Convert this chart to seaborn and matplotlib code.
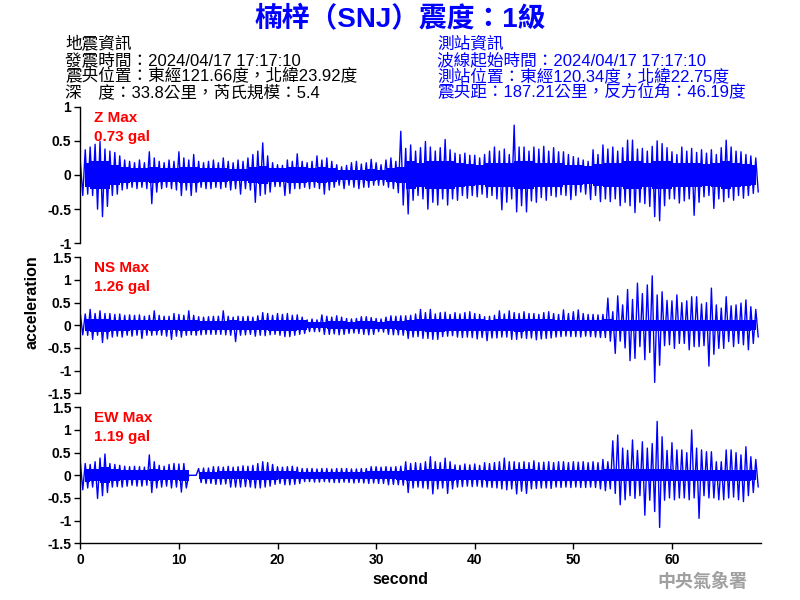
import numpy as np
import pandas as pd
import matplotlib
matplotlib.use("Agg")
import matplotlib.pyplot as plt
from matplotlib.ticker import FuncFormatter
import seaborn as sns

# ---------------- data ----------------
# peak values per half second (t = 0, 0.5, 1.0, ... 68.5 s), unit: gal
Z_up = [0.20, 0.37, 0.41, 0.45, 0.49, 0.38, 0.35, 0.33, 0.28, 0.22,
        0.20, 0.18, 0.22, 0.18, 0.34, 0.25, 0.20, 0.18, 0.22, 0.20,
        0.34, 0.25, 0.22, 0.30, 0.20, 0.18, 0.20, 0.22, 0.18, 0.25,
        0.20, 0.18, 0.22, 0.20, 0.25, 0.30, 0.35, 0.47, 0.28, 0.18,
        0.15, 0.14, 0.22, 0.20, 0.31, 0.20, 0.18, 0.20, 0.28, 0.22,
        0.25, 0.20, 0.15, 0.12, 0.14, 0.18, 0.20, 0.16, 0.18, 0.23,
        0.18, 0.15, 0.22, 0.25, 0.20, 0.64, 0.39, 0.44, 0.35, 0.40,
        0.49, 0.41, 0.35, 0.40, 0.52, 0.37, 0.32, 0.30, 0.32, 0.29,
        0.29, 0.25, 0.30, 0.35, 0.41, 0.35, 0.38, 0.30, 0.73, 0.41,
        0.41, 0.35, 0.41, 0.38, 0.42, 0.35, 0.40, 0.34, 0.34, 0.30,
        0.27, 0.25, 0.22, 0.20, 0.37, 0.30, 0.44, 0.38, 0.41, 0.35,
        0.40, 0.51, 0.51, 0.38, 0.39, 0.35, 0.42, 0.50, 0.46, 0.40,
        0.34, 0.30, 0.41, 0.35, 0.39, 0.33, 0.37, 0.32, 0.37, 0.30,
        0.40, 0.51, 0.41, 0.35, 0.34, 0.30, 0.28, 0.25]
Z_lo = [-0.30, -0.28, -0.30, -0.50, -0.61, -0.46, -0.30, -0.28, -0.22, -0.20,
        -0.18, -0.20, -0.18, -0.20, -0.42, -0.25, -0.20, -0.18, -0.20, -0.22,
        -0.30, -0.22, -0.30, -0.25, -0.18, -0.20, -0.20, -0.18, -0.20, -0.18,
        -0.22, -0.20, -0.28, -0.20, -0.22, -0.40, -0.30, -0.28, -0.25, -0.17,
        -0.17, -0.30, -0.27, -0.20, -0.20, -0.18, -0.20, -0.18, -0.20, -0.28,
        -0.22, -0.18, -0.15, -0.20, -0.15, -0.18, -0.20, -0.18, -0.18, -0.15,
        -0.15, -0.15, -0.18, -0.20, -0.26, -0.44, -0.57, -0.37, -0.30, -0.35,
        -0.50, -0.40, -0.44, -0.35, -0.44, -0.35, -0.37, -0.30, -0.34, -0.30,
        -0.32, -0.28, -0.33, -0.30, -0.35, -0.51, -0.40, -0.35, -0.54, -0.45,
        -0.54, -0.38, -0.40, -0.33, -0.37, -0.30, -0.32, -0.29, -0.30, -0.36,
        -0.30, -0.25, -0.28, -0.36, -0.30, -0.39, -0.35, -0.39, -0.35, -0.45,
        -0.40, -0.45, -0.55, -0.40, -0.42, -0.46, -0.61, -0.67, -0.45, -0.35,
        -0.35, -0.41, -0.38, -0.35, -0.59, -0.40, -0.32, -0.30, -0.49, -0.35,
        -0.39, -0.33, -0.37, -0.30, -0.34, -0.30, -0.27, -0.25]
# half-width of the dense core of the trace, per second (t = 0 .. 68 s)
Z_core = [0.18, 0.20, 0.20, 0.15, 0.12, 0.10, 0.10, 0.12, 0.10, 0.10,
          0.12, 0.12, 0.10, 0.10, 0.10, 0.09, 0.09, 0.11, 0.13, 0.10,
          0.10, 0.11, 0.11, 0.10, 0.11, 0.10, 0.07, 0.07, 0.08, 0.09,
          0.08, 0.10, 0.12, 0.20, 0.18, 0.20, 0.20, 0.20, 0.17, 0.16,
          0.15, 0.17, 0.18, 0.18, 0.20, 0.20, 0.18, 0.18, 0.17, 0.15,
          0.14, 0.13, 0.16, 0.18, 0.18, 0.20, 0.20, 0.18, 0.20, 0.20,
          0.17, 0.18, 0.18, 0.16, 0.17, 0.20, 0.18, 0.16, 0.14]

NS_up = [0.26, 0.25, 0.35, 0.26, 0.32, 0.26, 0.26, 0.24, 0.25, 0.22,
         0.23, 0.22, 0.23, 0.20, 0.22, 0.32, 0.22, 0.20, 0.20, 0.26,
         0.24, 0.22, 0.32, 0.22, 0.19, 0.18, 0.19, 0.20, 0.20, 0.32,
         0.20, 0.18, 0.20, 0.19, 0.20, 0.18, 0.21, 0.28, 0.26, 0.22,
         0.26, 0.24, 0.26, 0.22, 0.23, 0.18, 0.12, 0.14, 0.12, 0.23,
         0.20, 0.18, 0.21, 0.18, 0.15, 0.14, 0.15, 0.19, 0.19, 0.17,
         0.15, 0.14, 0.18, 0.21, 0.20, 0.21, 0.21, 0.22, 0.25, 0.35,
         0.28, 0.35, 0.25, 0.28, 0.29, 0.24, 0.28, 0.25, 0.28, 0.30,
         0.26, 0.24, 0.19, 0.20, 0.22, 0.32, 0.25, 0.32, 0.28, 0.26,
         0.30, 0.26, 0.26, 0.24, 0.28, 0.30, 0.26, 0.24, 0.34, 0.26,
         0.30, 0.34, 0.26, 0.24, 0.24, 0.23, 0.24, 0.60, 0.30, 0.65,
         0.45, 0.79, 0.57, 0.93, 0.70, 0.89, 1.09, 0.67, 0.74, 0.55,
         0.54, 0.67, 0.50, 0.54, 0.63, 0.63, 0.47, 0.50, 0.82, 0.45,
         0.38, 0.63, 0.43, 0.45, 0.49, 0.56, 0.41, 0.35]
NS_lo = [-0.21, -0.22, -0.31, -0.22, -0.38, -0.30, -0.26, -0.24, -0.26, -0.22,
         -0.24, -0.22, -0.29, -0.22, -0.22, -0.21, -0.22, -0.24, -0.31, -0.24,
         -0.26, -0.22, -0.21, -0.22, -0.21, -0.20, -0.20, -0.20, -0.20, -0.21,
         -0.22, -0.36, -0.22, -0.21, -0.20, -0.24, -0.22, -0.23, -0.21, -0.20,
         -0.22, -0.25, -0.25, -0.22, -0.20, -0.18, -0.14, -0.14, -0.14, -0.20,
         -0.20, -0.19, -0.21, -0.20, -0.18, -0.17, -0.18, -0.20, -0.21, -0.20,
         -0.14, -0.15, -0.20, -0.21, -0.21, -0.22, -0.29, -0.26, -0.25, -0.29,
         -0.29, -0.31, -0.31, -0.25, -0.24, -0.23, -0.26, -0.27, -0.26, -0.27,
         -0.30, -0.27, -0.34, -0.28, -0.28, -0.26, -0.26, -0.31, -0.31, -0.28,
         -0.29, -0.28, -0.32, -0.30, -0.29, -0.28, -0.26, -0.25, -0.24, -0.25,
         -0.25, -0.26, -0.24, -0.25, -0.26, -0.27, -0.27, -0.35, -0.62, -0.35,
         -0.50, -0.78, -0.73, -0.47, -0.76, -0.60, -1.26, -0.88, -0.45, -0.43,
         -0.51, -0.40, -0.40, -0.54, -0.47, -0.47, -0.45, -0.90, -0.64, -0.51,
         -0.51, -0.36, -0.47, -0.40, -0.43, -0.54, -0.40, -0.26]
NS_core = [0.13, 0.14, 0.14, 0.12, 0.12, 0.11, 0.11, 0.12, 0.11, 0.11,
           0.12, 0.12, 0.10, 0.10, 0.10, 0.11, 0.10, 0.10, 0.11, 0.12,
           0.12, 0.12, 0.11, 0.07, 0.07, 0.09, 0.09, 0.08, 0.09, 0.09,
           0.08, 0.09, 0.10, 0.12, 0.13, 0.14, 0.14, 0.13, 0.13, 0.13,
           0.13, 0.12, 0.13, 0.13, 0.14, 0.13, 0.13, 0.13, 0.12, 0.12,
           0.12, 0.12, 0.12, 0.13, 0.12, 0.12, 0.12, 0.12, 0.12, 0.12,
           0.12, 0.12, 0.12, 0.12, 0.12, 0.12, 0.12, 0.12, 0.11]

EW_up = [0.30, 0.26, 0.24, 0.30, 0.38, 0.47, 0.26, 0.24, 0.22, 0.20,
         0.19, 0.20, 0.19, 0.18, 0.45, 0.30, 0.22, 0.20, 0.24, 0.26,
         0.25, 0.26, 0.00, 0.00, 0.15, 0.16, 0.16, 0.19, 0.19, 0.18,
         0.20, 0.18, 0.19, 0.21, 0.20, 0.22, 0.26, 0.30, 0.28, 0.24,
         0.19, 0.18, 0.19, 0.20, 0.18, 0.15, 0.15, 0.15, 0.14, 0.15,
         0.15, 0.14, 0.15, 0.15, 0.15, 0.14, 0.14, 0.15, 0.15, 0.19,
         0.19, 0.18, 0.19, 0.18, 0.19, 0.20, 0.30, 0.26, 0.28, 0.26,
         0.30, 0.41, 0.30, 0.28, 0.38, 0.30, 0.23, 0.22, 0.25, 0.23,
         0.25, 0.22, 0.28, 0.26, 0.28, 0.30, 0.38, 0.30, 0.30, 0.28,
         0.30, 0.28, 0.32, 0.28, 0.29, 0.30, 0.28, 0.30, 0.30, 0.28,
         0.30, 0.29, 0.30, 0.28, 0.30, 0.28, 0.35, 0.30, 0.76, 0.89,
         0.60, 0.55, 0.78, 0.55, 0.74, 0.60, 0.70, 1.19, 0.85, 0.55,
         0.72, 0.56, 0.56, 0.50, 1.00, 0.60, 0.56, 0.52, 0.52, 0.30,
         0.30, 0.56, 0.56, 0.50, 0.45, 0.63, 0.41, 0.35]
EW_lo = [-0.32, -0.28, -0.26, -0.51, -0.45, -0.38, -0.26, -0.25, -0.26, -0.24,
         -0.22, -0.24, -0.24, -0.22, -0.38, -0.28, -0.26, -0.24, -0.28, -0.26,
         -0.37, -0.28, 0.00, 0.00, -0.16, -0.18, -0.18, -0.20, -0.20, -0.19,
         -0.26, -0.26, -0.26, -0.25, -0.26, -0.28, -0.28, -0.26, -0.24, -0.20,
         -0.18, -0.21, -0.21, -0.20, -0.18, -0.14, -0.14, -0.15, -0.15, -0.14,
         -0.15, -0.16, -0.16, -0.15, -0.16, -0.17, -0.16, -0.17, -0.18, -0.17,
         -0.18, -0.18, -0.21, -0.20, -0.21, -0.22, -0.38, -0.28, -0.26, -0.28,
         -0.30, -0.41, -0.30, -0.28, -0.40, -0.30, -0.26, -0.25, -0.24, -0.25,
         -0.24, -0.26, -0.26, -0.27, -0.28, -0.30, -0.32, -0.30, -0.41, -0.35,
         -0.40, -0.30, -0.29, -0.28, -0.28, -0.29, -0.26, -0.27, -0.26, -0.27,
         -0.26, -0.27, -0.27, -0.26, -0.27, -0.30, -0.34, -0.30, -0.40, -0.65,
         -0.54, -0.45, -0.51, -0.45, -0.88, -0.55, -0.80, -1.15, -0.55, -0.50,
         -0.54, -0.50, -0.50, -0.54, -0.50, -0.95, -0.45, -0.50, -0.50, -0.54,
         -0.54, -0.50, -0.48, -0.54, -0.58, -0.45, -0.38, -0.26]
EW_core = [0.14, 0.13, 0.18, 0.13, 0.11, 0.11, 0.11, 0.13, 0.11, 0.11,
           0.12, 0.00, 0.08, 0.08, 0.09, 0.09, 0.09, 0.10, 0.10, 0.10,
           0.09, 0.09, 0.08, 0.08, 0.08, 0.08, 0.08, 0.08, 0.08, 0.09,
           0.09, 0.09, 0.10, 0.12, 0.12, 0.13, 0.13, 0.13, 0.11, 0.11,
           0.11, 0.12, 0.12, 0.12, 0.13, 0.13, 0.12, 0.12, 0.12, 0.12,
           0.12, 0.12, 0.12, 0.13, 0.13, 0.13, 0.13, 0.13, 0.13, 0.13,
           0.12, 0.12, 0.12, 0.12, 0.12, 0.12, 0.12, 0.12, 0.11]

components = ["Z", "NS", "EW"]
max_labels = ["Z Max\n0.73 gal", "NS Max\n1.26 gal", "EW Max\n1.19 gal"]
y_ticks = [[-1, -0.5, 0, 0.5, 1],
           [-1.5, -1, -0.5, 0, 0.5, 1, 1.5],
           [-1.5, -1, -0.5, 0, 0.5, 1, 1.5]]
x_ticks = [0, 10, 20, 30, 40, 50, 60]

title = "楠梓（SNJ）震度：1級"
left_info = ["地震資訊",
             "發震時間：2024/04/17 17:17:10",
             "震央位置：東經121.66度，北緯23.92度",
             "深　度：33.8公里，芮氏規模：5.4"]
right_info = ["測站資訊",
              "波線起始時間：2024/04/17 17:17:10",
              "測站位置：東經120.34度，北緯22.75度",
              "震央距：187.21公里，反方位角：46.19度"]

# ---------------- build long table ----------------
step = 0.5
series = {"Z": (Z_up, Z_lo, Z_core), "NS": (NS_up, NS_lo, NS_core),
          "EW": (EW_up, EW_lo, EW_core)}
rows = []
for comp, (up, lo, core) in series.items():
    for i, (u, l) in enumerate(zip(up, lo)):
        t0 = i * step
        rows.append((comp, t0, u))
        rows.append((comp, t0 + step / 2, l))
df = pd.DataFrame(rows, columns=["comp", "t", "acc"])

# ---------------- style ----------------
sns.set_style("white")
FAM = ["Liberation Sans", "Noto Sans CJK TC", "DejaVu Sans"]
plt.rcParams["font.family"] = FAM
plt.rcParams["axes.unicode_minus"] = False

W, H = 800, 600
fig = plt.figure(figsize=(8, 6), dpi=100)

left_px, right_px = 80.3, 760.7
panels_px = [(106.7, 243.3), (257.3, 393.3), (407.3, 543.3)]
fmt = FuncFormatter(lambda v, p: "%g" % v)
BLUE = "#0000ff"

for k, comp in enumerate(components):
    top, bot = panels_px[k]
    ax = fig.add_axes([left_px / W, 1 - bot / H, (right_px - left_px) / W, (bot - top) / H])
    sub = df[df["comp"] == comp]
    up, lo, core = series[comp]
    core = np.asarray(core)
    tc = np.arange(len(core)) + 0.5
    # dense core of the trace
    ax.fill_between(tc, -core, core, step="mid", color=BLUE, linewidth=0)
    # the trace itself
    sns.lineplot(data=sub, x="t", y="acc", ax=ax, estimator=None, sort=False,
                 color=BLUE, linewidth=1.0)
    ax.set_xlim(0, 69)
    yt = y_ticks[k]
    ax.set_ylim(yt[0], yt[-1])
    ax.set_yticks(yt)
    ax.yaxis.set_major_formatter(fmt)
    for s in ["top", "right"]:
        ax.spines[s].set_visible(False)
    ax.spines["left"].set_color("black")
    ax.spines["left"].set_linewidth(1.0)
    ax.tick_params(axis="y", which="major", direction="out", length=4, width=1,
                   pad=2.5, labelsize=10, left=True, colors="black")
    for lab in ax.get_yticklabels():
        lab.set_fontweight("bold")
    ax.set_ylabel("")
    ax.set_xlabel("")
    if k < 2:
        ax.spines["bottom"].set_visible(False)
        ax.set_xticks([])
    else:
        ax.spines["bottom"].set_color("black")
        ax.spines["bottom"].set_linewidth(1.0)
        ax.set_xticks(x_ticks)
        ax.xaxis.set_major_formatter(fmt)
        ax.tick_params(axis="x", direction="out", length=4, width=1, pad=3,
                       labelsize=10, bottom=True, colors="black")
        for lab in ax.get_xticklabels():
            lab.set_fontweight("bold")
    ax.grid(False)
    ax.patch.set_alpha(0)
    l1, l2 = max_labels[k].split("\n")
    fig.text(94 / W, 1 - (top + 11) / H, l1, color="#ff0000", fontsize=11,
             fontweight="bold", ha="left", va="center")
    fig.text(94 / W, 1 - (top + 30) / H, l2, color="#ff0000", fontsize=11,
             fontweight="bold", ha="left", va="center")

# axis labels
fig.text(32 / W, 1 - 302 / H, "acceleration", rotation=90, ha="center", va="center",
         fontsize=11.5, fontweight="bold", color="black")
fig.text(400 / W, 1 - 580 / H, "second", ha="center", va="center",
         fontsize=11.5, fontweight="bold", color="black")

# title and header info
fig.text(400 / W, 1 - 20 / H, title, ha="center", va="center", fontsize=20,
         fontweight="bold", color=BLUE)
for i, line in enumerate(left_info):
    fig.text(65 / W, 1 - (44 + 16 * i) / H, line, ha="left", va="center",
             fontsize=12, color="black")
for i, line in enumerate(right_info):
    fig.text(437 / W, 1 - (44 + 16 * i) / H, line, ha="left", va="center",
             fontsize=12, color=BLUE)

fig.text(702 / W, 1 - 581 / H, "中央氣象署", ha="center", va="center", fontsize=13,
         fontweight="bold", color="#a0a0a0", family=["Noto Sans CJK TC"])

fig.savefig("out.png", dpi=100, facecolor="white")
